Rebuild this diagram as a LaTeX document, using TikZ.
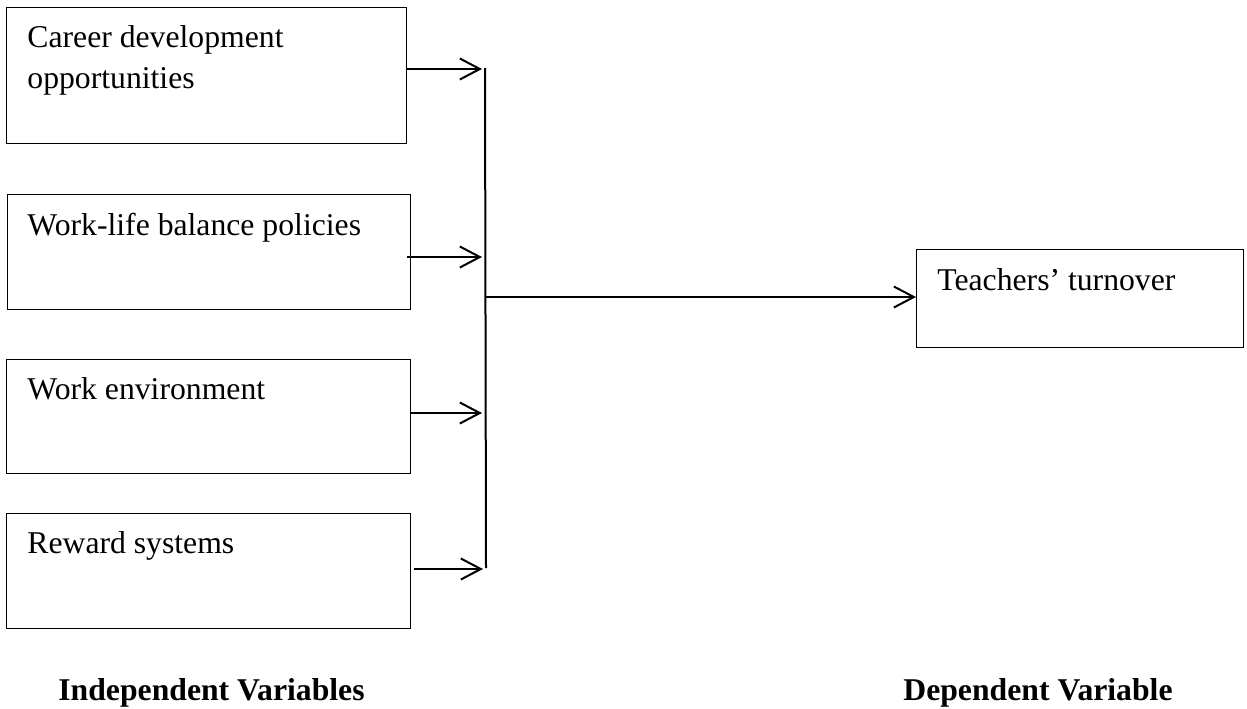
\documentclass[tikz,border=0pt]{standalone}
\usepackage{fontspec}
\setmainfont{Liberation Serif}
\usetikzlibrary{positioning, arrows.meta, calc}

\begin{document}
\begin{tikzpicture}[
    x=0.5pt, y=-0.5pt,
    every node/.style={font=\fontsize{15.85}{20.5}\selectfont},
    varbox/.style 2 args={draw, line width=0.6pt, anchor=north west, inner sep=0pt,
      minimum width=#1, minimum height=#2},
    boxtext/.style={anchor=north west, inner sep=0pt, align=left},
    heading/.style={anchor=base west, inner sep=0pt, font=\fontsize{15.85}{20.5}\selectfont\bfseries},
    feed/.style={-{Straight Barb[length=10pt, width=10.5pt]}, line width=1pt},
    bus/.style={line width=1pt},
  ]
  \useasboundingbox (0,0) rectangle (1247,708);

  % Independent variables
  \node[varbox={200pt}{68pt}] (b1) at (6,7) {};
  \node[varbox={201.5pt}{57.5pt}] (b2) at (7,194) {};
  \node[varbox={202pt}{57pt}] (b3) at (6,359) {};
  \node[varbox={202pt}{57.5pt}] (b4) at (6,513) {};

  \node[boxtext] (t1) at ($(b1.north west)+(21,18.3)$) {Career development\\opportunities};
  \node[boxtext] (t2) at ($(b2.north west)+(20,18.3)$) {Work-life balance policies};
  \node[boxtext] (t3) at ($(b3.north west)+(21,18.3)$) {Work environment};
  \node[boxtext] (t4) at ($(b4.north west)+(21,18.3)$) {Reward systems};

  % Dependent variable
  \node[varbox={163.5pt}{49pt}] (dep) at (916,249) {};
  \node[boxtext] (t5) at ($(dep.north west)+(21,19.3)$) {Teachers’ turnover};

  % Junction line
  \coordinate (top) at (485,68);
  \coordinate (bot) at (486,568);
  \coordinate (mid) at (486,297);
  \coordinate (j1) at (482,69);
  \coordinate (j2) at (482,257);
  \coordinate (j3) at (482,413);
  \coordinate (j4) at (483,569);
  \draw[bus] (top) -- (bot);

  \draw[feed] ($(b1.east |- j1)$) -- (j1);
  \draw[feed] ($(b2.east |- j2)+(-4,0)$) -- (j2);
  \draw[feed] (b3.east |- j3) -- (j3);
  \draw[feed] ($(b4.east |- j4)+(3,0)$) -- (j4);
  \draw[feed] (mid) -- (dep.west |- mid);

  % Captions
  \node[heading] (iv) at (58,700) {Independent Variables};
  \node[heading] (dv) at (903,700) {Dependent Variable};
\end{tikzpicture}
\end{document}
